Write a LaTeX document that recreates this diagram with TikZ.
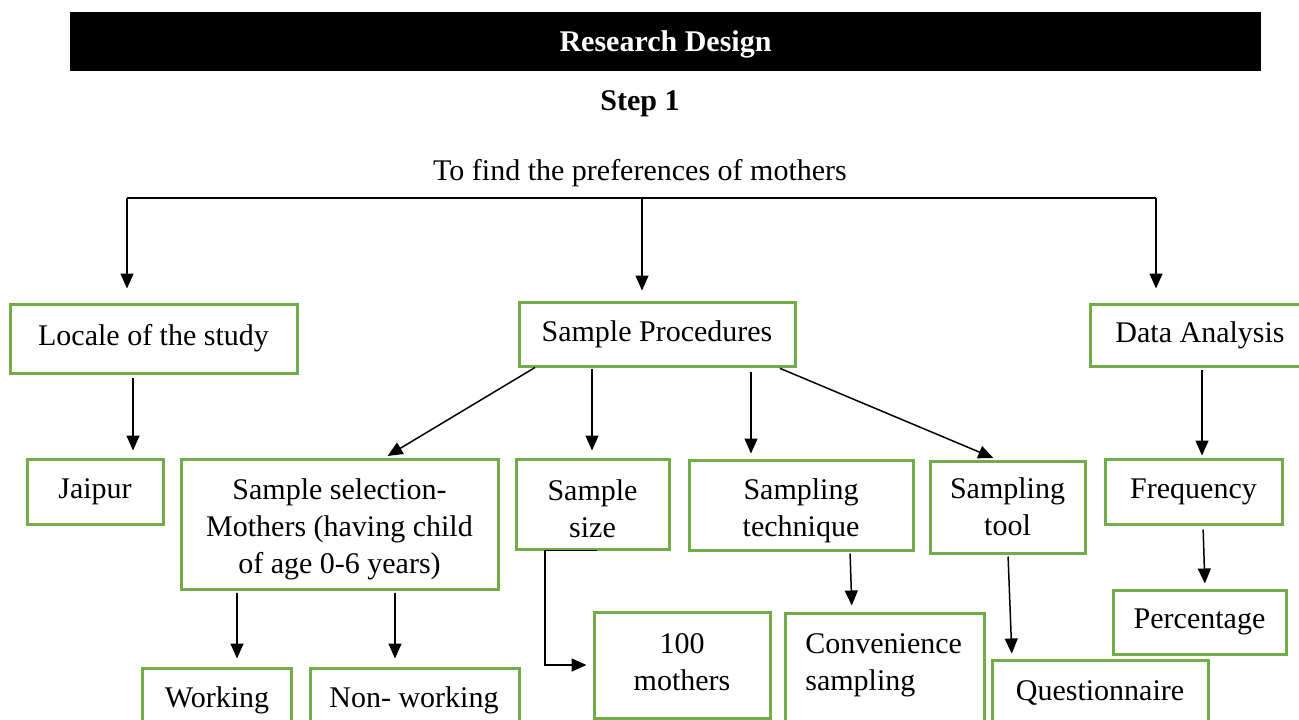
\documentclass[tikz,border=0pt]{standalone}
\usepackage{fontspec}
\setmainfont{Liberation Serif}
\usetikzlibrary{arrows.meta}
\definecolor{boxgreen}{RGB}{112,173,71}
\begin{document}
\begin{tikzpicture}[x=0.5pt,y=-0.5pt,
  fnt/.style={font=\fontsize{15pt}{18.5pt}\selectfont},
  txt/.style={fnt, align=center, inner sep=0pt},
  box/.style={draw=boxgreen, line width=1.5pt, fnt, align=center, inner sep=0pt},
  wh/.style 2 args={minimum width=#1*0.5pt, minimum height=#2*0.5pt},
  arr/.style={line width=0.75pt, -{Triangle[length=7.5pt,width=6.5pt]}},
  ln/.style={line width=0.75pt}]
\useasboundingbox (0,0) rectangle (1299,719);
\clip (0,0) rectangle (1299,719);

% title and headings
\node[fill=black, wh={1191}{59}, text=white, inner sep=0pt, text depth=0pt,
      font=\bfseries\fontsize{15pt}{18pt}\selectfont] (title) at (665.5,41.5) {Research Design};
\node[txt, font=\bfseries\fontsize{15pt}{18pt}\selectfont, anchor=base] (step) at (640,110) {Step 1};
\node[txt, anchor=base] (goal) at (640,180) {To find the preferences of mothers};

% boxes
\node[box, wh={287}{69}] (loc) at (153.5,338.5) {Locale of the study};
\node[box, wh={276}{64}] (sp) at (657,334) {Sample Procedures};
\node[box, wh={220}{62}] (da) at (1200,335) {Data Analysis};
\node[box, wh={136}{65}] (jai) at (95,491.5) {Jaipur};
\node[box, wh={317}{130}] (sel) at (339.5,524) {};
\node[txt] (selt) at (339.5,529) {Sample selection-\\Mothers (having child\\of age 0-6 years)};
\node[box, wh={153}{90}] (ssz) at (592.5,504) {};
\node[txt] (sszt) at (592.5,508.5) {Sample\\size};
\node[box, wh={224}{90}] (stq) at (801,505) {};
\node[txt] (stqt) at (801,511) {Sampling\\technique};
\node[box, wh={155}{92}] (stl) at (1007.5,507) {Sampling\\tool};
\node[box, wh={177}{65}] (frq) at (1193.5,491.5) {Frequency};
\node[box, wh={173}{64}] (pct) at (1199.5,622) {Percentage};
\node[box, wh={176}{106}] (hm) at (682,665) {};
\node[txt] (hmt) at (682,662) {100\\mothers};
\node[box, wh={199}{147}] (conv) at (884.5,686.5) {};
\node[txt, align=left, anchor=west] (convt) at (805,665) {Convenience\\sampling};
\node[box, wh={216}{100}] (q) at (1100,710) {};
\node[txt, anchor=base] (qt) at (1100,700) {Questionnaire};
\node[box, wh={149}{92}] (work) at (216.5,714) {};
\node[txt, anchor=base] (workt) at (217,707) {Working};
\node[box, wh={209}{92}] (nonw) at (414.5,714) {};
\node[txt, anchor=base] (nonwt) at (414,707) {Non- working};

% top bracket
\coordinate (bl) at (127,198);
\coordinate (bm) at (642,198);
\coordinate (br) at (1156,198);
\draw[ln] (bl) -- (br);
\draw[arr, shorten >=7pt] (bl) -- (bl |- loc.north);
\draw[arr, shorten >=5pt] (bm) -- (bm |- sp.north);
\draw[arr, shorten >=7pt] (br) -- (br |- da.north);

% connectors
\draw[arr, shorten <=1.5pt, shorten >=3.5pt] (loc.south -| 133,0) -- (jai.north -| 133,0);
\draw[arr, shorten >=1.5pt] (sp.south -| 535,0) -- (sel.north -| 385,0);
\draw[arr, shorten <=0.5pt, shorten >=3.5pt] (sp.south -| 592,0) -- (ssz.north -| 592,0);
\draw[arr, shorten <=2pt, shorten >=2.5pt] (sp.south -| 751,0) -- (stq.north -| 751,0);
\draw[arr, shorten <=1pt, shorten >=2pt] (sp.south -| 778,0) -- (stl.north -| 997,0);
\draw[arr, shorten <=1pt, shorten >=1pt] (da.south -| 1202,0) -- (frq.north -| 1202,0);
\draw[arr, shorten <=2pt, shorten >=2.5pt] (frq.south -| 1203,0) -- (pct.north -| 1205,0);
\draw[arr, shorten <=1pt, shorten >=4pt] (sel.south -| 237,0) -- (work.north -| 237,0);
\draw[arr, shorten <=1pt, shorten >=4pt] (sel.south -| 395,0) -- (nonw.north -| 395,0);
\draw[arr, shorten <=1pt, shorten >=3pt] (stq.south -| 850,0) -- (conv.north -| 852,0);
\draw[arr, shorten <=1pt, shorten >=2.5pt] (stl.south -| 1008,0) -- (q.north -| 1012,0);
\draw[arr, shorten >=3pt] (ssz.south -| 597,0) -- (ssz.south -| 545,0) |- (hm.west);
\end{tikzpicture}
\end{document}
